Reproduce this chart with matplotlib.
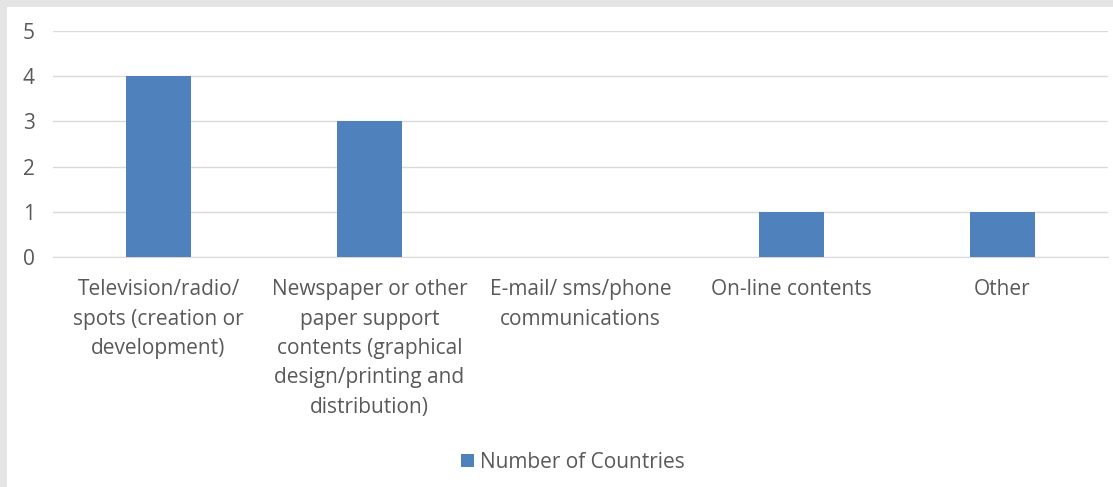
import matplotlib.pyplot as plt
from matplotlib.patches import Rectangle
import numpy as np

categories = [
    "Television/radio/\nspots (creation or\ndevelopment)",
    "Newspaper or other\npaper support\ncontents (graphical\ndesign/printing and\ndistribution)",
    "E-mail/ sms/phone\ncommunications",
    "On-line contents",
    "Other",
]
countries = [4, 3, 0, 1, 1]
series_name = "Number of Countries"
y_ticks = [0, 1, 2, 3, 4, 5]

bar_color = "#4f81bd"
text_color = "#595959"
grid_color = "#d9d9d9"
font_size = 15

plt.rcParams["font.family"] = ["Open Sans", "DejaVu Sans"]

fig = plt.figure(figsize=(11.13, 4.87), dpi=100)
fig.patch.set_facecolor("#e4e4e4")
# white chart panel inset from the top and left edges
fig.patches.append(Rectangle((7 / 1113, 0), 1 - 7 / 1113, 1 - 7 / 487,
                             transform=fig.transFigure, facecolor="white",
                             edgecolor="none", zorder=-10))

ax = fig.add_axes([53 / 1113, 1 - 257 / 487, 1055 / 1113, 226 / 487])
ax.set_facecolor("none")

x = np.arange(len(categories))
bars = ax.bar(x, countries, width=0.31, color=bar_color, label=series_name, zorder=3)

ax.set_xlim(-0.5, len(categories) - 0.5)
ax.set_ylim(0, 5)
ax.set_yticks(y_ticks)
ax.set_yticklabels([str(v) for v in y_ticks])
ax.set_xticks(x)
ax.set_xticklabels(categories, linespacing=1.52, va="top")
ax.grid(axis="y", color=grid_color, linewidth=1, zorder=0)

for side in ["top", "right", "left"]:
    ax.spines[side].set_visible(False)
ax.spines["bottom"].set_color(grid_color)

ax.tick_params(axis="both", length=0, colors=text_color, labelsize=font_size)
ax.tick_params(axis="x", pad=16)
ax.tick_params(axis="y", pad=13)

leg = fig.legend(handles=[bars], labels=[series_name], loc="center",
                 bbox_to_anchor=(573 / 1113, 1 - 462 / 487), frameon=False,
                 handlelength=0.6, handleheight=0.6, handletextpad=0.3,
                 fontsize=font_size)
for t in leg.get_texts():
    t.set_color(text_color)

fig.savefig("out.png", dpi=100)
